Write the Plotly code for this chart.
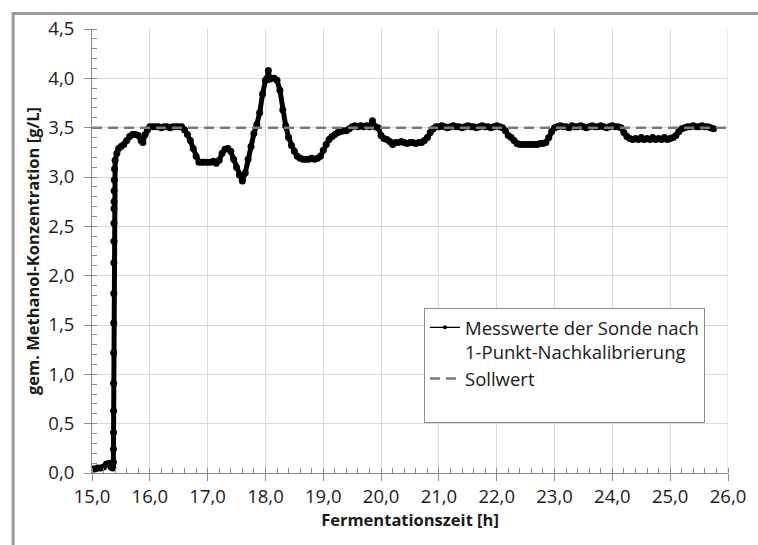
import plotly.graph_objects as go

# ---- data ----
time_h = [
    15.00, 15.05, 15.10, 15.15, 15.20, 15.25, 15.30, 15.33, 15.36,
    15.370, 15.371, 15.372, 15.373, 15.374, 15.375, 15.376, 15.377, 15.378,
    15.379, 15.380, 15.381, 15.382, 15.383, 15.385, 15.39,
    15.40, 15.43, 15.46, 15.50, 15.55, 15.60, 15.65, 15.70, 15.75, 15.80,
    15.85, 15.88, 15.92, 15.96, 16.00, 16.05, 16.10, 16.15, 16.20, 16.25,
    16.30, 16.35, 16.40, 16.45, 16.50, 16.55, 16.60, 16.65, 16.70, 16.75,
    16.80, 16.85, 16.90, 16.95, 17.00, 17.05, 17.10, 17.15, 17.20, 17.25,
    17.30, 17.35, 17.40, 17.45, 17.50, 17.55, 17.60, 17.65, 17.70, 17.75,
    17.80, 17.85, 17.90, 17.95, 18.00, 18.03, 18.05, 18.07, 18.10, 18.15,
    18.20, 18.25, 18.30, 18.35, 18.40, 18.45, 18.50, 18.55, 18.60, 18.65,
    18.70, 18.75, 18.80, 18.85, 18.90, 18.95, 19.00, 19.05, 19.10, 19.15,
    19.20, 19.25, 19.30, 19.35, 19.40, 19.45, 19.50, 19.55, 19.60, 19.65,
    19.70, 19.75, 19.80, 19.85, 19.90, 19.95, 20.00, 20.05, 20.10, 20.15,
    20.20, 20.25, 20.30, 20.35, 20.40, 20.45, 20.50, 20.55, 20.60, 20.65,
    20.70, 20.75, 20.80, 20.85, 20.90, 20.95, 21.00, 21.05, 21.10, 21.15,
    21.20, 21.25, 21.30, 21.35, 21.40, 21.45, 21.50, 21.55, 21.60, 21.65,
    21.70, 21.75, 21.80, 21.85, 21.90, 21.95, 22.00, 22.05, 22.10, 22.15,
    22.20, 22.25, 22.30, 22.35, 22.40, 22.45, 22.50, 22.55, 22.60, 22.65,
    22.70, 22.75, 22.80, 22.85, 22.90, 22.95, 23.00, 23.05, 23.10, 23.15,
    23.20, 23.25, 23.30, 23.35, 23.40, 23.45, 23.50, 23.55, 23.60, 23.65,
    23.70, 23.75, 23.80, 23.85, 23.90, 23.95, 24.00, 24.05, 24.10, 24.15,
    24.20, 24.25, 24.30, 24.35, 24.40, 24.45, 24.50, 24.55, 24.60, 24.65,
    24.70, 24.75, 24.80, 24.85, 24.90, 24.95, 25.00, 25.05, 25.10, 25.15,
    25.20, 25.25, 25.30, 25.35, 25.40, 25.45, 25.50, 25.55, 25.60, 25.65,
    25.70, 25.75,
]
methanol_gl = [
    0.04, 0.04, 0.05, 0.05, 0.06, 0.09, 0.10, 0.06, 0.05,
    0.11, 0.24, 0.41, 0.63, 0.91, 1.22, 1.52, 1.82, 2.13,
    2.35, 2.53, 2.68, 2.75, 2.86, 2.97, 3.08,
    3.17, 3.24, 3.29, 3.31, 3.33, 3.37, 3.41, 3.43, 3.43, 3.42,
    3.37, 3.35, 3.43, 3.48, 3.51, 3.51, 3.51, 3.51, 3.50, 3.51,
    3.51, 3.50, 3.51, 3.51, 3.51, 3.51, 3.48, 3.43, 3.37, 3.29,
    3.21, 3.15, 3.15, 3.15, 3.15, 3.15, 3.16, 3.14, 3.17, 3.24,
    3.28, 3.29, 3.26, 3.18, 3.10, 3.02, 2.96, 3.04, 3.18, 3.31,
    3.44, 3.53, 3.65, 3.84, 3.98, 4.00, 4.08, 3.99, 4.00, 4.00,
    3.98, 3.88, 3.68, 3.52, 3.40, 3.32, 3.26, 3.21, 3.19, 3.18,
    3.18, 3.18, 3.19, 3.18, 3.19, 3.21, 3.27, 3.33, 3.38, 3.41,
    3.43, 3.45, 3.46, 3.47, 3.47, 3.49, 3.51, 3.52, 3.51, 3.52,
    3.51, 3.52, 3.51, 3.57, 3.51, 3.50, 3.42, 3.39, 3.38, 3.36,
    3.33, 3.35, 3.35, 3.36, 3.35, 3.34, 3.35, 3.35, 3.34, 3.35,
    3.35, 3.37, 3.40, 3.45, 3.49, 3.51, 3.51, 3.52, 3.51, 3.50,
    3.51, 3.52, 3.51, 3.51, 3.50, 3.51, 3.52, 3.51, 3.51, 3.50,
    3.51, 3.52, 3.51, 3.51, 3.50, 3.51, 3.52, 3.51, 3.50, 3.47,
    3.42, 3.40, 3.37, 3.34, 3.33, 3.33, 3.33, 3.33, 3.33, 3.33,
    3.33, 3.34, 3.34, 3.35, 3.40, 3.46, 3.50, 3.51, 3.52, 3.51,
    3.51, 3.50, 3.52, 3.51, 3.51, 3.52, 3.51, 3.50, 3.51, 3.52,
    3.51, 3.51, 3.52, 3.51, 3.50, 3.51, 3.52, 3.51, 3.51, 3.50,
    3.45, 3.41, 3.39, 3.38, 3.39, 3.38, 3.40, 3.38, 3.39, 3.38,
    3.40, 3.38, 3.39, 3.38, 3.40, 3.38, 3.39, 3.40, 3.42, 3.46,
    3.49, 3.50, 3.51, 3.51, 3.52, 3.51, 3.51, 3.52, 3.51, 3.51,
    3.50, 3.49,
]
setpoint_x = [15.0, 26.0]
setpoint_y = [3.5, 3.5]

series_name = "Messwerte der Sonde nach<br>1-Punkt-Nachkalibrierung"
setpoint_name = "Sollwert<br> "
x_title = "Fermentationszeit [h]"
y_title = "gem. Methanol-Konzentration [g/L]"

FONT = "Open Sans"
AX = "#8c8c8c"
GRID = "#d9d9d9"

fig = go.Figure()

# measured values (dense band)
fig.add_trace(go.Scatter(
    x=time_h, y=methanol_gl, mode="lines+markers",
    line=dict(color="black", width=5),
    marker=dict(color="black", size=7, symbol="circle"),
    showlegend=False, legendgroup="m",
))
# legend proxy for the measured values
fig.add_trace(go.Scatter(
    x=[None], y=[None], mode="lines+markers", name=series_name,
    line=dict(color="black", width=1.3),
    marker=dict(color="black", size=4),
    legendgroup="m",
))
# set point
fig.add_trace(go.Scatter(
    x=setpoint_x, y=setpoint_y, mode="lines", name=setpoint_name,
    line=dict(color="#7a7a7a", width=2.5, dash="10px,6px"),
))

fig.update_layout(
    width=758, height=545,
    margin=dict(l=92, r=20, t=29, b=72),
    paper_bgcolor="white", plot_bgcolor="white",
    separators=",.",
    font=dict(family=FONT, color="#1a1a1a", size=19),
    legend=dict(
        x=0.522, y=0.372, xanchor="left", yanchor="top",
        bgcolor="white", bordercolor="#8c8c8c", borderwidth=1,
        font=dict(family=FONT, size=18.5, color="#1a1a1a"),
        tracegroupgap=0, itemwidth=30, valign="top",
    ),
    shapes=[dict(
        type="rect", xref="paper", yref="paper",
        x0=-0.124, x1=1.06, y0=-0.2, y1=1.035,
        line=dict(color="#9a9a9a", width=3), fillcolor="rgba(0,0,0,0)",
        layer="below",
    )],
)

fig.update_xaxes(
    range=[15, 26], dtick=1, tick0=15, tickformat=".1f",
    showgrid=True, gridcolor=GRID, gridwidth=1,
    showline=True, linecolor=AX, linewidth=1,
    ticks="outside", ticklen=7, tickcolor=AX,
    minor=dict(dtick=0.2, ticks="inside", ticklen=5, tickcolor=AX, showgrid=False),
    tickfont=dict(size=18.5),
    title=dict(text=x_title, font=dict(size=16.5, family=FONT, weight="bold"), standoff=6),
    zeroline=False, mirror=False,
)
fig.update_yaxes(
    range=[0, 4.5], dtick=0.5, tick0=0, tickformat=".1f",
    showgrid=True, gridcolor=GRID, gridwidth=1,
    showline=True, linecolor=AX, linewidth=1,
    ticks="outside", ticklen=7, tickcolor=AX, ticklabelstandoff=6,
    minor=dict(dtick=0.1, ticks="inside", ticklen=5, tickcolor=AX, showgrid=False),
    tickfont=dict(size=18.5),
    title=dict(text=y_title, font=dict(size=16.5, family=FONT, weight="bold"), standoff=4),
    zeroline=False,
)

fig.add_shape(type="line", xref="x", yref="paper", x0=26, x1=26, y0=0, y1=1,
              line=dict(color=GRID, width=1), layer="below")

fig.write_html("out.html")
